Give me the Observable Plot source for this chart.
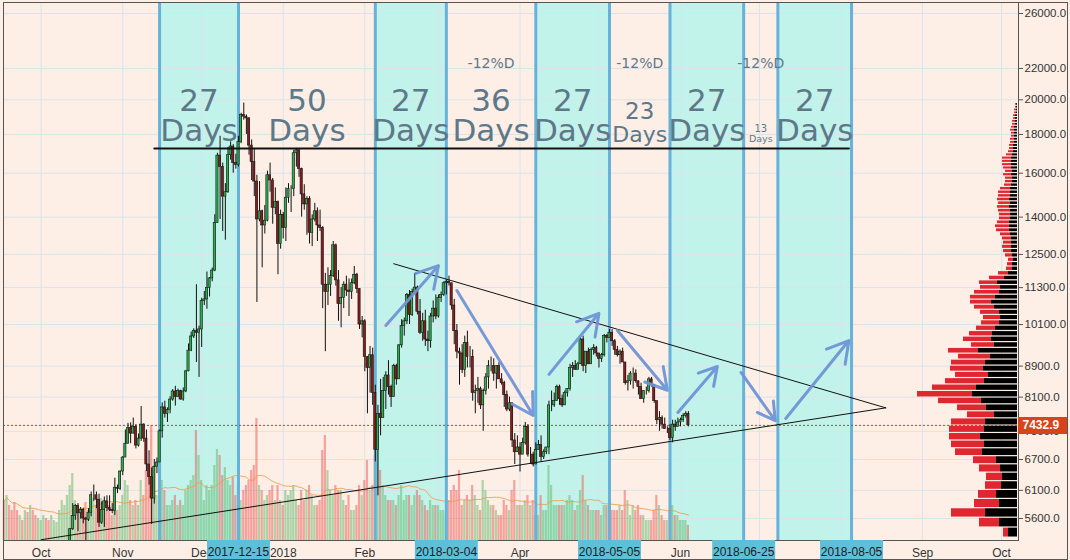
<!DOCTYPE html>
<html><head><meta charset="utf-8">
<script src="https://cdn.jsdelivr.net/npm/d3@7"></script>
<script src="https://cdn.jsdelivr.net/npm/@observablehq/plot@0.6"></script>
<style>
body{margin:0;background:#fdefe6;}
#chart{position:relative;width:1070px;height:560px;background:#fdefe6;overflow:hidden;}
#chart svg{position:absolute;left:0;top:0;}
#border{position:absolute;left:3px;top:2px;width:1063px;height:556px;border:1px solid #555;pointer-events:none;}
</style></head><body>
<div id="chart"><div id="border"></div></div>
<script>
// ---------- daily candles, first bar 2017-09-17 (one value per day) ----------
const startDate = "2017-09-17";
const opens = [
 3690,3680,4080,3910,3880,3620,3600,3780,3660,3930,3890,4200,4190,4160,
 4340,4390,4410,4310,4220,4330,4370,4440,4610,4780,4780,4830,5420,5640,5820,5690,5750,5600,5580,5700,6010,6010,5930,5530,5750,5900,5780,5750,5730,6150,6130,
 6460,6740,7030,7370,7250,7400,6990,7140,7450,7140,6600,6350,5950,6550,6640,7300,7850,7700,7790,8040,8240,8100,8250,8040,8240,8760,9330,9740,9900,9850,
 9950,10850,10900,11280,11620,11900,13750,16880,16300,14900,15100,16900,17350,16500,16400,17600,19100,19000,18900,17400,16550,15600,13900,14250,13650,13850,15900,15650,14400,14650,12900,
 14100,13550,14850,15250,15250,17000,17150,16200,15000,14550,14800,13350,13900,14250,13650,13550,11400,11150,11400,11700,12850,11550,10750,10950,11400,11200,11150,11450,11750,11250,10100,
 10200,9150,8850,9200,8200,6900,7700,7600,8250,8650,8350,8100,8900,8550,9480,10050,10200,11050,10400,11150,11300,10500,9850,10200,9650,9600,10350,10600,
 10350,10950,11050,11450,11500,11450,10700,9900,9300,9250,8800,9550,9150,9150,8200,8250,8300,7900,8250,8600,8900,8900,8700,8900,8550,8450,8150,7800,7950,7100,6850,
 6950,6800,7050,7400,6800,6800,6600,6900,7000,6750,6850,6950,7900,7900,8000,8350,8050,7900,8200,8300,8850,8900,8800,8950,9650,8900,9300,8950,9350,9400,
 9250,9100,9200,9750,9700,9850,9600,9350,9200,9300,9000,8450,8500,8700,8700,8500,8350,8050,8250,8250,8550,8400,8000,7550,7600,7450,7350,7350,7150,7450,7400,
 7500,7550,7650,7700];
const highs = [
 3780,4120,4090,4030,3900,3760,3800,3790,3970,3990,4230,4260,4200,4360,
 4400,4470,4430,4350,4360,4420,4470,4630,4880,4930,4890,5430,5860,5840,5860,5790,5780,5620,5770,6070,6200,6070,6030,5890,5980,6000,6000,5860,6330,6200,6470,
 6760,7330,7480,7490,7600,7450,7240,7870,7470,7330,6880,6530,6700,6730,7330,7960,8000,7840,8110,8290,8370,8300,8270,8330,8780,9520,9870,9970,11400,10050,
 10940,11170,11850,11650,11990,14100,17000,17900,16500,15500,17300,17600,17450,16950,17900,19200,19800,19100,18950,17700,17200,15900,15600,14300,14500,16100,16500,15750,15300,14700,14300,
 14200,15300,15500,15400,17150,17250,17200,16250,15450,14900,14900,14100,14600,14400,14300,13600,11800,12000,11900,13000,12900,11900,11300,11500,11700,11600,11600,12050,11800,11250,10350,
 10250,9150,9450,9400,8400,7900,8550,8600,8750,9050,8400,8950,8950,9500,10250,10300,11100,11200,11250,11800,11350,10900,10450,10550,9900,10450,10850,11050,
 11050,11150,11500,11550,11700,11450,10900,10100,9400,9500,9750,9900,9450,9350,8400,8600,8350,8300,8700,9050,9150,9100,8900,9000,8700,8500,8250,8100,7950,7250,7200,
 7050,7150,7500,7450,6950,6850,7050,7100,7200,6900,6950,8000,8250,8200,8400,8400,8150,8250,8300,8950,9000,9050,9000,9700,9750,9300,9400,9400,9500,9450,
 9250,9250,9800,9800,9950,9950,9650,9450,9350,9400,9000,8650,8750,8850,8800,8500,8450,8250,8350,8600,8600,8420,8000,7750,7650,7600,7400,7450,7550,7550,7600,
 7600,7700,7750,7750];
const lows = [
 3560,3680,3850,3850,3590,3560,3580,3650,3660,3880,3890,4130,4030,4160,
 4260,4380,4230,4180,4160,4320,4320,4420,4560,4740,4730,4830,5400,5570,5380,5590,5510,5110,5550,5630,5900,5770,5450,5500,5450,5720,5720,5680,5650,6040,6100,
 6380,6740,7020,7030,7240,6920,6960,7080,7060,6460,6200,5500,5850,6420,6640,7150,7600,7500,7700,8000,7880,8090,8030,8000,8210,8750,9300,9680,9000,8600,
 9420,10700,10580,10980,11500,11860,13740,13900,13400,13050,15050,16650,16000,16200,16300,17500,18800,18000,16900,15650,14900,10800,13800,12000,13300,13800,15100,13700,14100,11750,12700,
 13100,13000,14600,14200,14900,16300,15800,14000,14300,13250,12900,12800,13800,13000,13400,10600,9300,10700,11000,11650,11350,10200,10000,10600,11000,10350,10900,11400,11100,9950,9700,
 8750,7700,8200,7900,6650,6000,7200,7600,7800,8150,7850,8100,8400,8550,9400,9750,10100,10100,10350,11100,10400,9800,9600,9450,9300,9400,10150,10250,
 10300,10800,11000,11050,11350,10550,9500,9100,8400,8700,8600,8850,8850,8000,7700,7950,7800,7300,8150,8300,8750,8500,8300,8550,8400,7850,7750,7750,6950,6600,6850,
 6450,6800,7000,6750,6600,6550,6600,6900,6650,6700,6800,6800,7750,7850,8000,7900,7850,7900,8100,8250,8600,8800,8800,8950,8750,8700,8950,8950,9200,9150,
 8850,9000,9150,9550,9700,9450,9200,9150,8950,9000,8400,8250,8400,8300,8450,8150,8050,7950,8150,8200,8350,7950,7450,7300,7350,7350,7250,7100,7050,7300,7400,
 7400,7500,7600,7400];
const closes = [
 3680,4080,3910,3880,3620,3600,3780,3660,3930,3890,4200,4190,4160,4340,
 4390,4410,4310,4220,4330,4370,4440,4610,4780,4780,4830,5420,5640,5820,5690,5750,5600,5580,5700,6010,6010,5930,5530,5750,5900,5780,5750,5730,6150,6130,6460,
 6740,7030,7370,7250,7400,6990,7140,7450,7140,6600,6350,5950,6550,6640,7300,7850,7700,7790,8040,8240,8100,8250,8040,8240,8760,9330,9740,9900,9850,9950,
 10850,10900,11280,11620,11900,13750,16880,16300,14900,15100,16900,17350,16500,16400,17600,19100,19000,18900,17400,16550,15600,13900,14250,13650,13850,15900,15650,14400,14650,12900,14100,
 13550,14850,15250,15250,17000,17150,16200,15000,14550,14800,13350,13900,14250,13650,13550,11400,11150,11400,11700,12850,11550,10750,10950,11400,11200,11150,11450,11750,11250,10100,10200,
 9150,8850,9200,8200,6900,7700,7600,8250,8650,8350,8100,8900,8550,9480,10050,10200,11050,10400,11150,11300,10500,9850,10200,9650,9600,10350,10600,10350,
 10950,11050,11450,11500,11450,10700,9900,9300,9250,8800,9550,9150,9150,8200,8250,8300,7900,8250,8600,8900,8900,8700,8900,8550,8450,8150,7800,7950,7100,6850,6950,
 6800,7050,7400,6800,6800,6600,6900,7000,6750,6850,6950,7900,7900,8000,8350,8050,7900,8200,8300,8850,8900,8800,8950,9650,8900,9300,8950,9350,9400,9250,
 9100,9200,9750,9700,9850,9600,9350,9200,9300,9000,8450,8500,8700,8700,8500,8350,8050,8250,8250,8550,8400,8000,7550,7600,7450,7350,7350,7150,7450,7400,7500,
 7550,7650,7700,7432.9];
// daily volume (thousand BTC)
const volumes = [
 40,45,35,30,38,30,25,20,30,28,35,30,25,22,
 20,25,22,20,25,20,18,30,40,35,45,55,67,40,35,30,28,38,30,45,42,35,40,42,35,30,35,25,45,30,35,
 45,60,55,40,35,40,35,60,45,70,65,115,75,45,55,60,50,35,35,40,45,35,40,35,50,55,60,65,110,85,
 60,40,55,50,55,75,91,85,65,73,60,55,63,45,55,40,50,55,60,70,75,122,55,50,40,45,50,55,40,55,40,
 35,50,45,50,55,40,35,50,40,50,55,45,35,35,40,90,105,70,50,45,55,50,50,40,35,45,30,30,35,55,45,
 60,80,50,55,85,110,70,55,45,40,40,40,35,45,55,40,45,45,35,45,50,45,40,35,30,40,35,35,
 35,30,30,25,40,50,55,50,70,35,40,45,40,55,45,35,30,60,50,40,35,35,30,25,25,40,35,30,50,60,35,
 35,35,40,45,35,40,25,25,45,30,30,75,55,35,35,35,35,35,40,45,40,30,35,50,65,40,35,30,30,30,
 30,25,35,35,30,30,30,30,35,30,50,40,25,35,30,35,25,25,20,20,20,30,45,35,25,20,20,30,35,25,25,
 20,20,20,15];
const lastPrice = 7432.9;

// ---------- cycle bands and their labels ----------
const bandStarts = ["2017-11-15","2018-02-05","2018-04-07","2018-05-28","2018-07-08"];
const bandEnds   = ["2017-12-15","2018-03-04","2018-05-05","2018-06-25","2018-08-05"];
const spanLabels = ["27","50","27","36","27","23","27","13","27"];
const spanKinds  = ["big","big","big","big","big","mid","big","small","big"];
const spanPct    = [false,false,false,true,false,true,false,true,false];

// ---------- drawn lines / arrows (date, price) ----------
const resistance = [{date:"2017-11-13",price:17250},{date:"2018-08-04",price:17250}];
const upperTrend = [{date:"2018-02-12",price:12150},{date:"2018-08-18",price:7840}];
const lowerTrend = [{date:"2017-10-01",price:5250},{date:"2018-08-18",price:7840}];
const arrowFromDate  = ["2018-02-09","2018-03-08","2018-04-12","2018-05-08","2018-05-31","2018-06-24","2018-07-11"];
const arrowFromPrice = [10070,11200,8680,9920,7730,8730,7590];
const arrowToDate    = ["2018-03-01","2018-04-06","2018-05-01","2018-05-27","2018-06-15","2018-07-07","2018-08-04"];
const arrowToPrice   = [12080,7660,10450,8270,8890,7540,9620];

// ---------- volume profile rows (price bins from profileBase, step profileStep) ----------
const profileBase = 5284, profileStep = 165;
const profileBlack = [9,18,32,18,21,16,15,17,21,35,33,37,33,32,23,31,36,45,41,33,29,34,32,27,39,23,26,25,22,18,17,18,23,26,22,18,17,20,13,9,5,
 5,4,5,6,6,6,6,7,8,8,8,7,7,7,8,7,8,7,7,7,6,5,5,6,5,6,6,6,6,5,4,4,4,3,3,3,3,3,3,2,2,2,2,1,1,1,1];
const profileRed = [5,20,34,25,18,16,16,21,23,27,33,31,35,34,27,29,43,55,44,39,33,33,34,32,30,23,28,23,19,18,17,19,20,21,25,25,20,18,15,10,6,
 5,5,7,8,9,8,9,10,13,14,12,11,11,12,12,12,12,12,12,10,7,7,7,8,7,8,9,9,9,6,5,4,4,4,4,3,3,4,3,3,3,2,2,2,2,1,1];

// ---------- axes ----------
const priceTicks = [5600,6100,6700,7300,8100,8900,10100,11300,12500,14000,16000,18000,20000,22000,26000];
const monthGridDates = ["2017-10-01","2017-11-01","2017-12-01","2018-01-01","2018-02-01","2018-03-01","2018-04-01","2018-05-01","2018-06-01","2018-07-01","2018-08-01","2018-09-01","2018-10-01"].map(s=>new Date(s));
// month labels that are not covered by the highlighted date boxes
const monthTickDates = ["2017-10-01","2017-11-01","2017-12-01","2018-01-01","2018-02-01","2018-04-01","2018-06-01","2018-09-01","2018-10-01"].map(s=>new Date(s));
const monthTickLabels = ["Oct","Nov","Dec","2018","Feb","Apr","Jun","Sep","Oct"];

// ---------- build ----------
const n = closes.length;
if ([opens,highs,lows,volumes].some(a=>a.length!==n)) throw new Error("length mismatch " + [opens,highs,lows,closes,volumes].map(a=>a.length));
const day0 = new Date(startDate);
const candles = closes.map((c,i)=>({date: d3.utcDay.offset(day0,i), open: opens[i], high: highs[i], low: lows[i], close: c, volume: volumes[i]}));
const bands = bandStarts.map((s,i)=>({start:new Date(s), end:new Date(bandEnds[i])}));
const edges = [...bandStarts,...bandEnds].map(s=>new Date(s)).sort((a,b)=>a-b);
const spans = spanLabels.map((t,i)=>({mid:new Date((+edges[i] + +edges[i+1])/2), text:t, kind:spanKinds[i], pct:spanPct[i]}));
const arrows = arrowFromDate.map((d,i)=>({d1:new Date(d), p1:arrowFromPrice[i], d2:new Date(arrowToDate[i]), p2:arrowToPrice[i]}));
const rows = profileBlack.map((b,i)=>({lo: profileBase+i*profileStep, hi: profileBase+(i+1)*profileStep, black:b, red:profileRed[i]}));
const lines = [resistance, upperTrend, lowerTrend].map(l=>l.map(p=>({date:new Date(p.date), price:p.price})));

const W=1070, H=560, ML=3, MR=52, MT=2, MB=20;
const xDomain = [new Date("2017-09-16T16:20:00Z"), new Date("2018-10-07T11:00:00Z")];
const yDomain = [5238, 26885];
const common = {width:W, height:H, marginLeft:ML, marginRight:MR, marginTop:MT, marginBottom:MB,
  style:{background:"transparent", overflow:"visible", fontFamily:"Liberation Sans, Arial, sans-serif"}};
const xs = {type:"utc", domain:xDomain, axis:null};
const ys = {type:"log", domain:yDomain, axis:null};
const half = d => [d3.utcHour.offset(d,-10), d3.utcHour.offset(d,10)];
const GREEN="#2bb24c", RED="#8c1c1c", TXT="#5d7888", GRID="#d9e3ec";

const chart = document.getElementById("chart");
const border = document.getElementById("border");
function add(svg){ chart.insertBefore(svg, border); }

// layer 1: bands + grid
add(Plot.plot({...common, x:xs, y:ys, marks:[
  Plot.rect(bands, {x1:"start", x2:"end", y1:yDomain[0], y2:yDomain[1], fill:"#c2f3ea"}),
  Plot.gridX(monthGridDates, {stroke:GRID, strokeOpacity:1}),
  Plot.gridY(priceTicks, {stroke:GRID, strokeOpacity:1})
]}));

// layer 2: volume + band edge lines
add(Plot.plot({...common, x:xs, y:{domain:[0,538], axis:null}, marks:[
  Plot.rectY(candles, {x1:d=>half(d.date)[0], x2:d=>half(d.date)[1], y:"volume",
    fill:d=>d.close>=d.open?"#5cb865":"#ef5350", fillOpacity:0.5}),
  Plot.lineY(candles, Plot.windowY({k:20, anchor:"end"}, {x:"date", y:"volume", stroke:"#f09a4a", strokeWidth:1, strokeOpacity:0.85})),
  Plot.ruleX(edges, {stroke:"#66b2da", strokeWidth:3})
]}));

// layer 3: volume profile
add(Plot.plot({...common, x:{domain:[0,100], range:[1017,917], axis:null}, y:ys, marks:[
  Plot.rect(rows, {x1:0, x2:"black", y1:"lo", y2:"hi", fill:"#000", insetTop:0.6, insetBottom:0.6, clip:true}),
  Plot.rect(rows, {x1:"black", x2:d=>d.black+d.red, y1:"lo", y2:"hi", fill:"#e0262e", insetTop:0.6, insetBottom:0.6, clip:true})
]}));

// layer 4: candles, drawings, text, axes
add(Plot.plot({...common, x:{type:"utc", domain:xDomain}, y:{type:"log", domain:yDomain}, marks:[
  Plot.ruleY([lastPrice], {stroke:"#b8461f", strokeDasharray:"2,2", strokeWidth:1}),
  Plot.ruleX(candles, {x:"date", y1:"low", y2:"high", stroke:"#111", strokeWidth:1, clip:true}),
  Plot.rect(candles, {filter:d=>d.close>=d.open, x1:d=>half(d.date)[0], x2:d=>half(d.date)[1], y1:"open", y2:"close", fill:GREEN, stroke:"#111", strokeWidth:0.6, clip:true}),
  Plot.rect(candles, {filter:d=>d.close<d.open, x1:d=>half(d.date)[0], x2:d=>half(d.date)[1], y1:"open", y2:"close", fill:RED, stroke:"#111", strokeWidth:0.6, clip:true}),
  Plot.line(lines[0], {x:"date", y:"price", stroke:"#111", strokeWidth:2}),
  Plot.line(lines[1], {x:"date", y:"price", stroke:"#111", strokeWidth:1}),
  Plot.line(lines[2], {x:"date", y:"price", stroke:"#111", strokeWidth:1}),
  Plot.arrow(arrows, {x1:"d1", y1:"p1", x2:"d2", y2:"p2", stroke:"#6f93d6", strokeWidth:3, headLength:12, strokeOpacity:0.95}),
  // span labels
  Plot.text(spans.filter(s=>s.kind==="big"), {x:"mid", text:"text", frameAnchor:"top", lineAnchor:"bottom", dy:108, fontSize:31, fontFamily:"DejaVu Sans", fill:TXT}),
  Plot.text(spans.filter(s=>s.kind==="big"), {x:"mid", text:()=>"Days", frameAnchor:"top", lineAnchor:"bottom", dy:138, fontSize:31, fontFamily:"DejaVu Sans", fill:TXT}),
  Plot.text(spans.filter(s=>s.kind==="mid"), {x:"mid", text:"text", frameAnchor:"top", lineAnchor:"bottom", dy:116, fontSize:23, fontFamily:"DejaVu Sans", fill:TXT}),
  Plot.text(spans.filter(s=>s.kind==="mid"), {x:"mid", text:()=>"Days", frameAnchor:"top", lineAnchor:"bottom", dy:139, fontSize:22, fontFamily:"DejaVu Sans", fill:TXT}),
  Plot.text(spans.filter(s=>s.kind==="small"), {x:"mid", text:"text", frameAnchor:"top", lineAnchor:"bottom", dy:129, fontSize:10, fontFamily:"DejaVu Sans", fill:TXT}),
  Plot.text(spans.filter(s=>s.kind==="small"), {x:"mid", text:()=>"Days", frameAnchor:"top", lineAnchor:"bottom", dy:139, fontSize:9.5, fontFamily:"DejaVu Sans", fill:TXT}),
  Plot.text(spans.filter(s=>s.pct), {x:"mid", text:()=>"-12%D", frameAnchor:"top", lineAnchor:"bottom", dy:65, fontSize:14, fontFamily:"DejaVu Sans", fill:TXT}),
  Plot.axisY(priceTicks, {anchor:"right", tickSize:4, tickPadding:2, tickFormat:d=>d.toFixed(1), label:null, fontSize:11.5, fill:"#333", stroke:"#555"}),
  Plot.axisX(monthTickDates, {anchor:"bottom", tickSize:0, tickPadding:8, label:null, fontSize:12, fill:"#333",
    tickFormat:d=>monthTickLabels[monthTickDates.findIndex(m=>+m===+d)]}),
  Plot.frame({stroke:"#555"})
]}));

// layer 5: highlighted date labels on the time axis
add(Plot.plot({...common, marginTop:540, marginBottom:0, x:xs, marks:[
  Plot.ruleX(bandEnds.map(s=>new Date(s)), {stroke:"#5ec0d8", strokeWidth:63}),
  Plot.text(bandEnds, {x:d=>new Date(d), text:d=>d, fill:"#1c1c1c", fontSize:12, dy:2})
]}));

// layer 6: last price tag on the price axis
add(Plot.plot({...common, marginLeft:1018, marginRight:2, y:ys, marks:[
  Plot.ruleY([lastPrice], {stroke:"#d8431b", strokeWidth:17}),
  Plot.text([lastPrice], {y:d=>d, text:d=>d.toFixed(1), frameAnchor:"left", dx:4, textAnchor:"start", fill:"white", fontWeight:"bold", fontSize:12})
]}));
</script>
</body></html>
